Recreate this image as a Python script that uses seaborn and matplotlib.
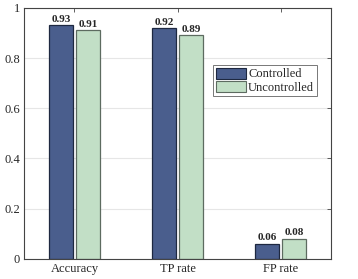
import numpy as np
import pandas as pd
import seaborn as sns
import matplotlib.pyplot as plt

# data
metrics = ['Accuracy', 'TP rate', 'FP rate']
controlled = [0.93, 0.92, 0.06]
uncontrolled = [0.91, 0.89, 0.08]
groups = ['Controlled', 'Uncontrolled']

df = pd.DataFrame({
    'metric': metrics * 2,
    'value': controlled + uncontrolled,
    'group': [groups[0]] * 3 + [groups[1]] * 3,
})

sns.set_theme(style='white')
plt.rcParams['font.family'] = ['Liberation Serif', 'DejaVu Serif']

fig, ax = plt.subplots(figsize=(3.58, 2.79), dpi=100)
fig.subplots_adjust(left=0.067, right=0.925, top=0.972, bottom=0.072)

palette = {'Controlled': '#4a5e8d', 'Uncontrolled': '#c2dfc6'}
sns.barplot(data=df, x='metric', y='value', hue='group', palette=palette,
            width=0.515, gap=0.1, saturation=1, ax=ax, legend=True)

edges = {'Controlled': '#1e2840', 'Uncontrolled': '#5d6b60'}
for cont, g in zip(ax.containers, groups):
    for bar in cont:
        bar.set_edgecolor(edges[g])
        bar.set_linewidth(0.9)
    ax.bar_label(cont, fmt='%.2f', fontsize=8, fontweight='bold', padding=1)

ax.set_xlim(-0.49, 2.49)
ax.set_ylim(0, 1)
ax.set_yticks([0, 0.2, 0.4, 0.6, 0.8, 1])
ax.set_yticklabels(['0', '0.2', '0.4', '0.6', '0.8', '1'])
ax.set_xlabel('')
ax.set_ylabel('')
ax.yaxis.grid(True, color='#e6e6e6', linewidth=0.8)
ax.set_axisbelow(True)
ax.tick_params(axis='both', direction='in', length=3, width=0.6, color='#444444',
               labelsize=9, top=True, right=True, pad=3)
for s in ax.spines.values():
    s.set_color('#444444')
    s.set_linewidth(0.8)

leg = ax.legend(loc='upper right', bbox_to_anchor=(0.953, 0.772), fontsize=9,
                frameon=True, fancybox=False, handlelength=2.4, handleheight=1.0,
                handletextpad=0.2, borderpad=0.2, borderaxespad=0, labelspacing=0.05)
leg.get_frame().set_edgecolor('#555555')
leg.get_frame().set_linewidth(0.7)
for h, g in zip(leg.legend_handles, groups):
    h.set_edgecolor(edges[g])
    h.set_linewidth(0.8)

fig.savefig('out.png', dpi=100)
